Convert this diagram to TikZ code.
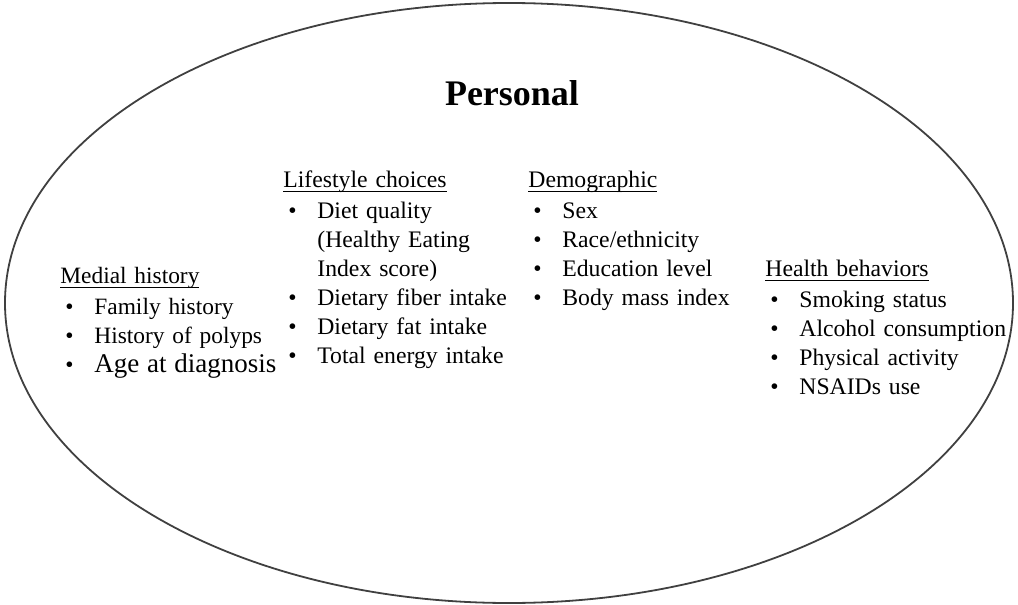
\documentclass[tikz,border=0pt]{standalone}
\usepackage{fontspec}
\setmainfont{Liberation Serif}
\usetikzlibrary{shapes.geometric,positioning}
\newcommand{\bul}[1]{\makebox[17pt][l]{\hspace{2.5pt}\textbullet}#1}
\newcommand{\cont}[1]{\hspace*{17pt}#1}
\newcommand{\hdr}[1]{\setbox0\hbox{#1}\rlap{\rule[-2.3pt]{\wd0}{0.55pt}}\box0}

\begin{document}
\begin{tikzpicture}[x=0.5pt,y=-0.5pt,
    group/.style={anchor=base west, inner sep=0pt, text width=150pt, align=left,
        font=\fontsize{11.85}{14.5}\selectfont}]
    \useasboundingbox (0,0) rectangle (1018,605);
    \node[ellipse, draw=black!75, line width=0.9pt, inner sep=0pt,
        minimum width=504pt, minimum height=300pt] (frame) at (509,303) {};
    \node[anchor=base, inner sep=0pt, font=\fontsize{18}{22}\selectfont\bfseries] (personal) at (512,105) {Personal};

    \node[group, font=\fontsize{11.7}{14.5}\selectfont] (medial) at (60,283)
        {\hdr{Medial history}\\[1pt] \bul{Family history}\\ \bul{History of polyps}\\
         \bul{{\fontsize{13.5}{14.5}\selectfont Age at diagnosis}}};
    \node[group] (lifestyle) at (283,187)
        {\hdr{Lifestyle choices}\\[1pt] \bul{Diet quality}\\ \cont{(Healthy Eating}\\ \cont{Index score)}\\
         \bul{Dietary fiber intake}\\ \bul{Dietary fat intake}\\ \bul{Total energy intake}};
    \node[group] (demographic) at (528,187)
        {\hdr{Demographic}\\[1pt] \bul{Sex}\\ \bul{Race/ethnicity}\\ \bul{Education level}\\ \bul{Body mass index}};
    \node[group] (health) at (765,276)
        {\hdr{Health behaviors}\\[1pt] \bul{Smoking status}\\ \bul{Alcohol consumption}\\ \bul{Physical activity}\\ \bul{NSAIDs use}};
\end{tikzpicture}
\end{document}
